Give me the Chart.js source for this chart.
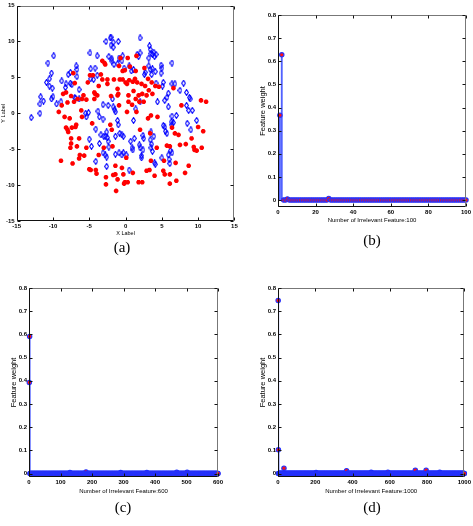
<!DOCTYPE html>
<html>
<head>
<meta charset="utf-8">
<script src="https://cdn.jsdelivr.net/npm/chart.js@4.4.1/dist/chart.umd.min.js"></script>
<style>
  body { margin: 0; background: #fff; width: 473px; height: 526px; position: relative; overflow: hidden; }
  canvas { position: absolute; }
  .cap { position: absolute; font-family: 'Liberation Serif', 'DejaVu Serif', serif; font-size: 15px; transform: translate(-50%, -50%); }
</style>
</head>
<body>
<canvas id="chartA" style="left:0;top:0" width="240" height="240"></canvas>
<canvas id="chartB" style="left:240px;top:0" width="233" height="230"></canvas>
<canvas id="chartC" style="left:0;top:260px" width="240" height="240"></canvas>
<canvas id="chartD" style="left:240px;top:260px" width="233" height="240"></canvas>
<div class="cap" style="left:122px;top:247px">(a)</div>
<div class="cap" style="left:372px;top:240px">(b)</div>
<div class="cap" style="left:123px;top:507px">(c)</div>
<div class="cap" style="left:372px;top:507px">(d)</div>
<script>
// (a) scatter of the two classes
const blueClass = [[-13.0,-0.6],[-11.8,0.0],[-11.8,1.3],[-11.7,2.3],[-11.3,1.7],[-10.7,7.0],[-9.9,8.0],[-10.9,4.3],[-10.5,4.8],[-10.2,5.6],[-10.5,3.8],[-10.1,3.5],[-10.2,2.0],[-10.0,2.3],[-9.5,1.3],[-8.9,1.6],[-8.8,4.5],[-8.3,3.6],[-8.2,4.1],[-7.9,5.4],[-7.6,5.7],[-7.6,4.2],[-7.4,4.0],[-7.0,2.2],[-6.9,2.1],[-6.8,6.6],[-6.7,6.1],[-6.7,5.1],[-6.4,3.3],[-6.4,2.0],[-5.5,0.0],[-5.4,-0.5],[-5.1,0.1],[-4.9,8.4],[-4.8,6.2],[-4.8,4.8],[-4.4,4.7],[-4.2,6.3],[-3.9,5.3],[-3.9,8.0],[-3.8,0.3],[-3.6,-0.5],[-4.1,-2.2],[-4.7,-4.6],[-5.0,-3.6],[-3.6,-4.2],[-3.4,-3.0],[-4.1,-6.7],[-2.7,10.0],[-2.6,-7.4],[-3.1,1.2],[-3.1,-0.8],[-2.8,-3.2],[-2.6,-2.6],[-2.5,-3.4],[-2.4,-3.9],[-3.0,-3.2],[-3.1,-5.5],[-2.8,-5.8],[-2.6,-6.1],[-2.4,1.1],[-2.3,7.9],[-2.3,-4.7],[-2.1,10.5],[-2.0,10.6],[-2.0,9.5],[-1.7,9.2],[-1.7,9.9],[-1.9,7.6],[-1.9,7.3],[-1.8,2.0],[-1.7,0.9],[-1.5,0.5],[-1.4,0.2],[-1.6,6.8],[-1.1,6.9],[-1.0,10.0],[-0.9,7.7],[-0.4,8.0],[-1.1,-1.0],[-1.0,-1.6],[-0.8,-2.8],[-0.5,-3.0],[-0.3,-3.2],[-1.4,-3.2],[-1.4,-5.7],[-0.9,-5.5],[-0.5,-5.8],[-0.3,-5.5],[0.1,-5.8],[-0.5,7.3],[-0.2,6.3],[0.5,6.6],[0.8,5.9],[1.1,6.1],[0.5,-7.9],[0.7,-3.9],[0.9,-4.8],[1.0,-5.1],[1.2,-3.5],[1.1,-1.0],[1.4,0.6],[1.6,8.2],[1.8,7.9],[2.0,8.4],[2.0,10.5],[1.9,-4.4],[2.0,-4.8],[2.2,-5.9],[2.2,-6.2],[2.0,1.6],[2.5,-3.5],[2.4,-3.1],[2.4,-5.1],[2.6,5.4],[2.7,5.7],[3.2,6.6],[3.2,7.7],[3.3,9.4],[3.4,8.9],[3.5,8.3],[3.7,8.2],[3.9,8.5],[4.0,7.9],[4.2,8.2],[3.4,6.1],[3.6,5.4],[3.7,6.2],[4.1,5.8],[4.2,4.2],[3.5,-2.6],[3.4,-3.7],[3.6,-4.3],[3.5,-4.8],[3.7,-5.3],[4.0,-6.9],[4.1,-7.1],[3.9,-3.2],[4.4,1.6],[4.9,6.7],[5.0,6.3],[4.9,5.6],[5.1,3.8],[5.2,4.3],[5.4,1.8],[5.7,2.2],[5.9,2.8],[5.9,0.9],[5.2,-1.7],[5.4,-1.9],[5.5,-2.5],[5.7,-2.8],[5.0,-6.2],[5.9,-5.8],[6.0,-6.4],[6.1,-7.0],[6.2,-5.2],[6.4,-5.5],[6.4,7.0],[6.4,4.1],[6.8,4.1],[6.4,-0.4],[6.3,-1.2],[6.6,-1.3],[6.4,-1.6],[7.0,-0.3],[7.5,3.2],[8.0,4.2],[8.4,2.9],[8.8,2.2],[8.9,2.0],[8.4,1.1],[8.7,0.4],[9.2,0.4],[8.5,-1.4],[9.0,-2.3],[9.8,-1.0]];
const redClass = [[-9.2,0.2],[-8.9,-6.6],[-8.8,1.1],[-8.6,2.7],[-8.4,-0.5],[-8.2,2.9],[-8.2,-2.0],[-8.0,-2.3],[-8.0,1.5],[-7.9,-2.6],[-7.7,-0.7],[-7.6,-4.8],[-7.5,-3.5],[-7.5,-4.2],[-7.4,-2.0],[-7.3,-7.0],[-7.5,2.4],[-7.2,5.6],[-7.1,1.6],[-7.0,4.2],[-6.9,-1.9],[-6.8,-1.6],[-6.7,-4.6],[-6.6,2.0],[-6.4,-3.5],[-6.4,-6.3],[-6.3,-5.8],[-6.1,0.4],[-6.0,-0.5],[-6.0,2.0],[-5.8,2.5],[-5.7,-5.9],[-5.4,1.9],[-5.4,-4.8],[-5.2,4.3],[-5.0,-7.8],[-4.9,5.3],[-4.8,-7.9],[-4.6,-1.4],[-4.5,5.3],[-4.3,2.9],[-4.3,2.0],[-4.2,2.7],[-4.1,-7.9],[-4.0,-8.4],[-3.9,2.5],[-3.7,-5.8],[-3.7,3.8],[-3.4,5.4],[-3.2,4.7],[-3.2,7.3],[-3.0,-4.8],[-2.9,7.0],[-2.8,6.8],[-2.7,-8.9],[-2.7,-9.9],[-2.5,4.7],[-2.5,4.1],[-2.1,-1.6],[-2.0,2.4],[-1.9,-2.3],[-1.8,-4.6],[-1.7,-8.6],[-1.6,4.7],[-1.4,-7.3],[-1.4,-8.5],[-1.3,-10.8],[-1.1,-9.2],[-1.1,3.4],[-1.1,2.5],[-1.0,2.7],[-0.9,6.6],[-0.9,1.1],[-0.8,4.7],[-0.7,7.7],[-0.5,-7.6],[-0.4,5.9],[-0.4,4.7],[-0.3,-8.5],[-0.2,-9.8],[-0.1,-9.6],[-0.1,6.0],[0.0,4.3],[0.1,-6.2],[0.2,4.1],[0.2,0.2],[0.3,-9.6],[0.4,2.5],[0.4,1.6],[0.5,4.6],[0.6,6.5],[0.3,7.7],[1.5,8.0],[0.9,1.2],[1.0,4.4],[1.0,-8.3],[1.1,3.1],[1.3,4.8],[1.4,5.9],[1.4,2.0],[1.5,0.2],[1.6,4.3],[1.8,2.5],[1.8,-9.6],[1.9,1.6],[2.0,-2.3],[2.2,4.1],[2.3,-9.6],[2.3,2.7],[2.5,1.6],[2.6,6.3],[2.7,3.8],[2.9,2.5],[2.9,-8.0],[3.1,4.8],[3.1,-0.7],[3.2,3.2],[3.3,-7.9],[3.4,-2.8],[3.5,-6.6],[3.5,-0.3],[3.6,4.3],[3.7,2.7],[4.0,-8.7],[4.1,3.8],[4.3,-4.8],[4.4,-0.5],[4.6,3.7],[5.2,-8.0],[5.3,-6.6],[5.4,-8.5],[5.7,-4.5],[6.1,-8.5],[6.1,-9.8],[6.1,-4.6],[6.4,-2.0],[6.6,3.5],[6.8,-2.8],[6.9,-6.9],[7.0,-9.4],[7.3,-3.0],[7.5,-4.4],[7.7,1.1],[8.2,-8.3],[8.3,-4.3],[8.7,-7.3],[9.1,-3.5],[9.4,-4.7],[9.5,-5.1],[9.8,-5.2],[10.0,-1.9],[10.4,1.8],[10.5,-4.8],[10.7,-2.5],[11.1,1.6]];
const scatterTicks = [-15, -10, -5, 0, 5, 10, 15];

// (b)(c)(d) feature weights: count of features and the weights that are not zero
const weightTicks = [0, 0.1, 0.2, 0.3, 0.4, 0.5, 0.6, 0.7, 0.8];
const countB = 100, ticksB = [0, 20, 40, 60, 80, 100];
const nonzeroB = {1: 0.367, 2: 0.628, 5: 0.005, 27: 0.007};
const countC = 600, ticksC = [0, 100, 200, 300, 400, 500, 600];
const nonzeroC = {1: 0.393, 2: 0.591, 130: 0.004, 181: 0.007, 291: 0.004, 374: 0.004, 469: 0.005, 502: 0.005};
const countD = 1000, ticksD = [0, 200, 400, 600, 800, 1000];
const nonzeroD = {1: 0.746, 2: 0.102, 32: 0.023, 204: 0.004, 368: 0.012, 500: 0.005, 590: 0.006, 737: 0.014, 795: 0.014, 868: 0.005};

Chart.defaults.font.family = "'Liberation Sans', Arial, sans-serif";
Chart.defaults.color = '#000';
Chart.defaults.animation = false;

const tickFont = {size: 6, weight: 'bold'};

// MATLAB style box with inward ticks on all four sides
const boxTicks = {
  id: 'boxTicks',
  afterDatasetsDraw(chart) {
    const {ctx, chartArea: a, scales: {x, y}} = chart;
    const L = Math.round(a.left) + 0.5, R = Math.round(a.right) - 0.5;
    const T = Math.round(a.top) + 0.5, B = Math.round(a.bottom) - 0.5;
    ctx.save();
    ctx.lineWidth = 1;
    ctx.strokeStyle = '#777';
    ctx.beginPath();
    ctx.moveTo(L, T); ctx.lineTo(R, T); ctx.lineTo(R, B);
    ctx.stroke();
    ctx.strokeStyle = '#111';
    ctx.beginPath();
    ctx.moveTo(L, T); ctx.lineTo(L, B); ctx.lineTo(R, B);
    x.ticks.forEach(t => {
      const p = Math.round(x.getPixelForValue(t.value)) + 0.5;
      ctx.moveTo(p, B); ctx.lineTo(p, B - 3);
      ctx.moveTo(p, T); ctx.lineTo(p, T + 3);
    });
    y.ticks.forEach(t => {
      const p = Math.round(y.getPixelForValue(t.value)) + 0.5;
      ctx.moveTo(L, p); ctx.lineTo(L + 3, p);
      ctx.moveTo(R, p); ctx.lineTo(R - 3, p);
    });
    ctx.stroke();
    ctx.restore();
  }
};

function axis(min, max, tickList, size, title) {
  return {
    type: 'linear', min: min, max: max, offset: false,
    grid: {display: false, drawTicks: false},
    border: {display: false},
    afterBuildTicks: s => { s.ticks = tickList.map(v => ({value: v})); },
    afterFit: s => { if (s.isHorizontal()) s.height = size; else s.width = size; },
    ticks: {font: tickFont, padding: 2, autoSkip: false, maxRotation: 0, callback: v => String(v)},
    title: title
  };
}

function diamond(w, h, color) {
  const c = document.createElement('canvas');
  c.width = w; c.height = h;
  const g = c.getContext('2d');
  g.strokeStyle = color; g.lineWidth = 1.1;
  g.beginPath();
  g.moveTo(w / 2, 0.6); g.lineTo(w - 0.6, h / 2); g.lineTo(w / 2, h - 0.6); g.lineTo(0.6, h / 2);
  g.closePath(); g.stroke();
  return c;
}

new Chart(document.getElementById('chartA'), {
  type: 'scatter',
  data: {
    datasets: [
      {data: redClass.map(p => ({x: p[0], y: p[1]})), pointStyle: 'star', radius: 2.3, borderWidth: 1.6, borderColor: '#ff0000', backgroundColor: '#ff0000'},
      {data: blueClass.map(p => ({x: p[0], y: p[1]})), pointStyle: diamond(5, 7, '#0000ff'), radius: 3}
    ]
  },
  options: {
    responsive: false,
    layout: {padding: {left: 0, top: 1.7, right: 3.3, bottom: 0}},
    plugins: {legend: {display: false}, tooltip: {enabled: false}},
    scales: {
      x: axis(-15, 15, scatterTicks, 19, {display: true, text: 'X Label', font: {size: 5.5}, padding: {top: 0, bottom: 3.7}}),
      y: axis(-15, 15, scatterTicks, 16.7, {display: true, text: 'Y Label', font: {size: 5.5}, padding: {top: 0, bottom: 0}})
    }
  },
  plugins: [boxTicks]
});

function weightChart(id, count, nonzero, xTicks, pad, xSize, ySize, yMin, xTitlePad, yTitlePad) {
  const pts = [];
  for (let i = 1; i <= count; i++) pts.push({x: i, y: nonzero[i] || 0});
  new Chart(document.getElementById(id), {
    type: 'bar',
    data: {
      datasets: [
        {type: 'scatter', data: pts, pointStyle: 'circle', radius: 2.2, borderWidth: 1.1,
         borderColor: '#2233ff', backgroundColor: '#ff1010', clip: false},
        {type: 'bar', data: pts, barThickness: 1.2, backgroundColor: 'rgba(50,70,255,0.85)'}
      ]
    },
    options: {
      responsive: false,
      layout: {padding: pad},
      plugins: {legend: {display: false}, tooltip: {enabled: false}},
      scales: {
        x: axis(0, count, xTicks, xSize, {display: true, text: 'Number of Irrelevant Feature:' + count,
             font: {size: 6}, padding: {top: 0, bottom: xTitlePad}}),
        y: axis(yMin, 0.8, weightTicks, ySize, {display: true, text: 'Feature weight',
             font: {size: 7.5}, padding: {top: yTitlePad, bottom: 0}})
      }
    },
    plugins: [boxTicks]
  });
}

weightChart('chartB', countB, nonzeroB, ticksB, {left: 0, top: 15, right: 5, bottom: 0}, 23, 38, -0.03, 5.7, 18.8);
weightChart('chartC', countC, nonzeroC, ticksC, {left: 0, top: 28, right: 22, bottom: 0}, 23, 29, -0.015, 4.7, 9.5);
weightChart('chartD', countD, nonzeroD, ticksD, {left: 0, top: 28, right: 5, bottom: 0}, 23, 38, -0.015, 4.7, 18.2);
</script>
</body>
</html>
